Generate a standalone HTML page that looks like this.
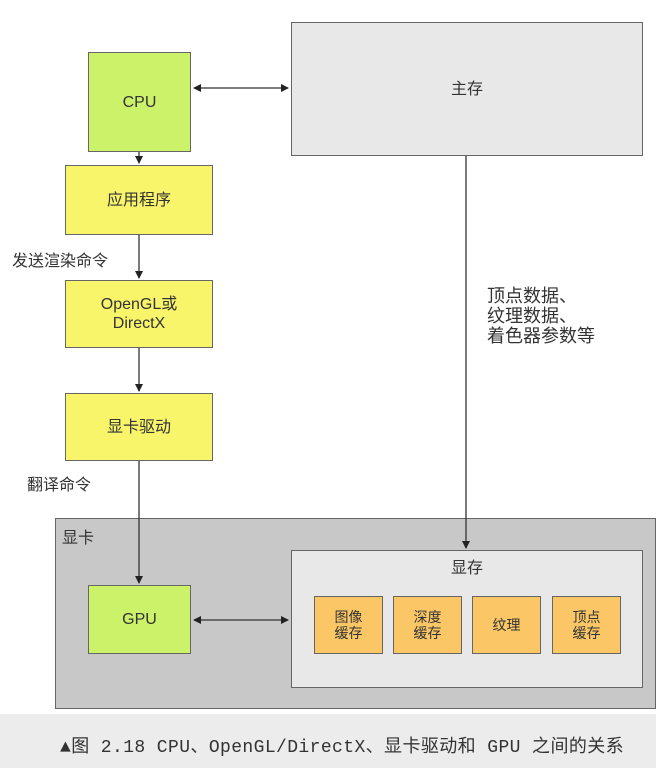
<!DOCTYPE html>
<html><head><meta charset="utf-8"><style>
body{margin:0;width:656px;height:768px;background:#fff;position:relative;overflow:hidden;font-family:"Liberation Sans","Noto Sans CJK SC",sans-serif;color:#333}
.b{position:absolute;box-sizing:border-box;border:1.5px solid #666;display:flex;align-items:center;justify-content:center;text-align:center;font-size:16px;line-height:19px}
.g{background:#ccf26a}.y{background:#f9f56a}.o{background:#fbc766;font-size:14px;line-height:16px}
.t{position:absolute;font-size:16px;white-space:nowrap}
</style></head><body>
<div style="position:absolute;left:0;top:714px;width:656px;height:54px;background:#ececec"></div>
<div class="b" style="left:291px;top:22px;width:352px;height:134px;background:#e8e8e8">主存</div>
<div class="b g" style="left:88px;top:52px;width:103px;height:100px">CPU</div>
<div class="b y" style="left:65px;top:165px;width:148px;height:70px">应用程序</div>
<div class="b y" style="left:65px;top:280px;width:148px;height:68px">OpenGL或<br>DirectX</div>
<div class="b y" style="left:65px;top:393px;width:148px;height:68px">显卡驱动</div>
<div class="b" style="left:55px;top:518px;width:601px;height:191px;background:#c8c8c8"></div>
<div class="t" style="left:62px;top:524px">显卡</div>
<div class="b" style="left:291px;top:550px;width:352px;height:138px;background:#e8e8e8;align-items:flex-start;padding-top:8px">显存</div>
<div class="b g" style="left:88px;top:585px;width:103px;height:69px">GPU</div>
<div class="b o" style="left:314px;top:596px;width:69px;height:58px">图像<br>缓存</div>
<div class="b o" style="left:393px;top:596px;width:69px;height:58px">深度<br>缓存</div>
<div class="b o" style="left:472px;top:596px;width:69px;height:58px">纹理</div>
<div class="b o" style="left:552px;top:596px;width:69px;height:58px">顶点<br>缓存</div>
<div class="t" style="left:12px;top:247px">发送渲染命令</div>
<div class="t" style="left:27px;top:471px">翻译命令</div>
<div class="t" style="left:487px;top:286px;line-height:20px;font-size:18px;text-align:left">顶点数据、<br>纹理数据、<br>着色器参数等</div>
<svg width="656" height="768" style="position:absolute;left:0;top:0">
<defs><marker id="a" markerWidth="8" markerHeight="8" refX="7" refY="4" orient="auto-start-reverse" markerUnits="userSpaceOnUse"><path d="M0,0L8,4L0,8z" fill="#222"/></marker></defs>
<g stroke="#333" stroke-width="1.3">
<line x1="194" y1="88" x2="288" y2="88" marker-start="url(#a)" marker-end="url(#a)"/>
<line x1="139" y1="152" x2="139" y2="163" marker-end="url(#a)"/>
<line x1="139" y1="235" x2="139" y2="278" marker-end="url(#a)"/>
<line x1="139" y1="348" x2="139" y2="391" marker-end="url(#a)"/>
<line x1="139" y1="461" x2="139" y2="583" marker-end="url(#a)"/>
<line x1="466" y1="156" x2="466" y2="548" marker-end="url(#a)"/>
<line x1="194" y1="620" x2="288" y2="620" marker-start="url(#a)" marker-end="url(#a)"/>
</g></svg>
<div class="t" style="left:60px;top:732px;font-size:18px;color:#333;font-family:'Liberation Mono','Noto Sans CJK SC',monospace;letter-spacing:0.4px">▲图 2.18 CPU、OpenGL/DirectX、显卡驱动和 GPU 之间的关系</div>
</body></html>
